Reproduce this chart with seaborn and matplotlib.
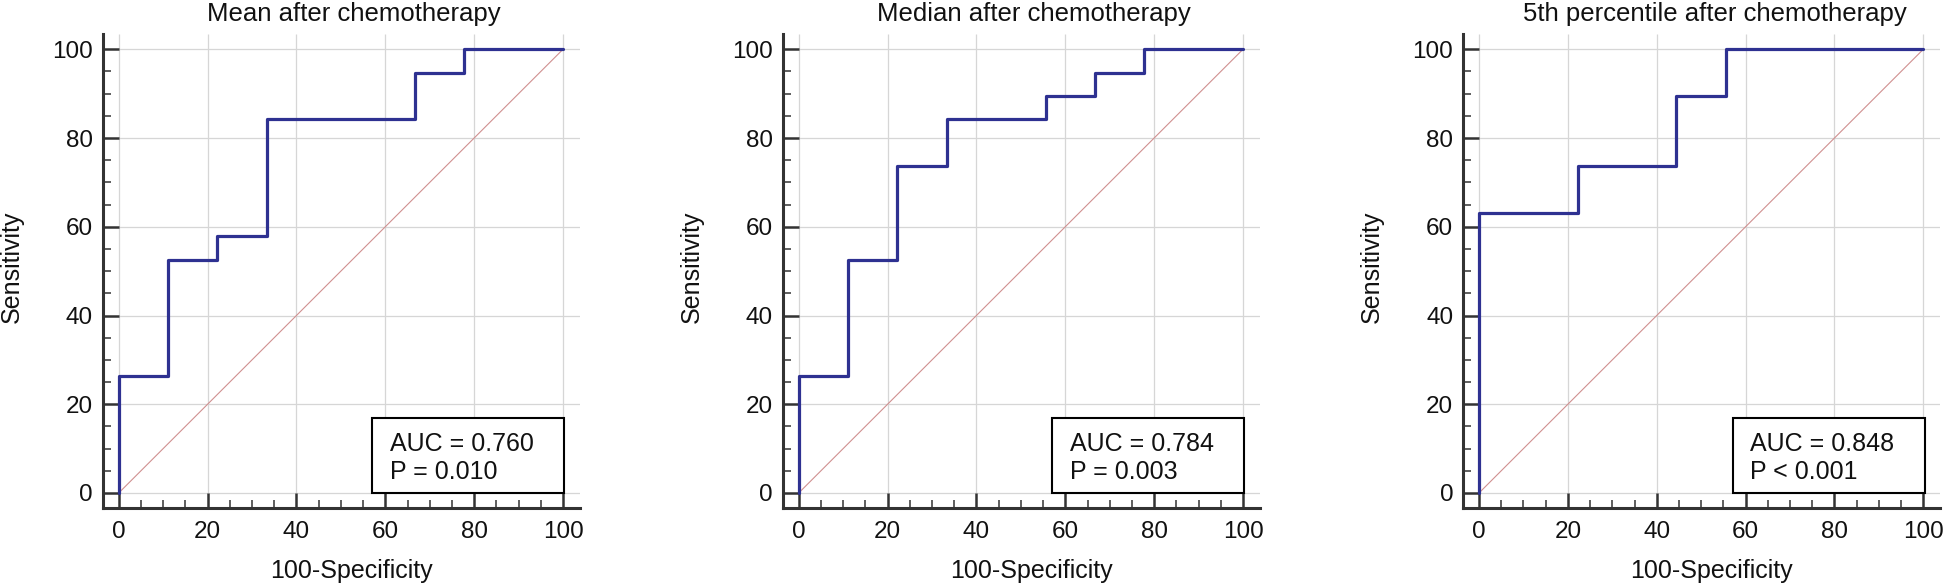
import matplotlib
matplotlib.use('Agg')
import matplotlib.pyplot as plt
import seaborn as sns
import pandas as pd
from matplotlib.patches import Rectangle
from matplotlib.ticker import MultipleLocator

# ROC curves (100-Specificity, Sensitivity), step corners
titles = ['Mean after chemotherapy', 'Median after chemotherapy', '5th percentile after chemotherapy']

mean_fpr = [0, 0, 11.1, 11.1, 22.2, 22.2, 33.3, 33.3, 66.7, 66.7, 77.8, 77.8, 100]
mean_tpr = [0, 26.3, 26.3, 52.6, 52.6, 57.9, 57.9, 84.2, 84.2, 94.7, 94.7, 100, 100]

median_fpr = [0, 0, 11.1, 11.1, 22.2, 22.2, 33.3, 33.3, 55.6, 55.6, 66.7, 66.7, 77.8, 77.8, 100]
median_tpr = [0, 26.3, 26.3, 52.6, 52.6, 73.7, 73.7, 84.2, 84.2, 89.5, 89.5, 94.7, 94.7, 100, 100]

p5_fpr = [0, 0, 22.2, 22.2, 44.4, 44.4, 55.6, 55.6, 100]
p5_tpr = [0, 63.2, 63.2, 73.7, 73.7, 89.5, 89.5, 100, 100]

auc_labels = ['AUC = 0.760', 'AUC = 0.784', 'AUC = 0.848']
p_labels = ['P = 0.010', 'P = 0.003', 'P < 0.001']

ref_line = [0, 100]
ticks = [0, 20, 40, 60, 80, 100]

sns.set_style('white')
plt.rcParams['font.family'] = ['Liberation Sans', 'DejaVu Sans']

ROC_COLOR = '#2e3191'
DIAG_COLOR = '#d09090'
GRID_COLOR = '#d6d6d6'
SPINE_COLOR = '#333333'
TEXT_COLOR = '#111111'

fig = plt.figure(figsize=(19.46, 5.83), dpi=100)
lefts = [0.05278, 0.40221, 0.75180]
curves = [(mean_fpr, mean_tpr), (median_fpr, median_tpr), (p5_fpr, p5_tpr)]

XMIN, XMAX = -3.6, 103.8
YMIN, YMAX = -3.45, 103.4

for i, (fpr, tpr) in enumerate(curves):
    ax = fig.add_axes([lefts[i], 0.12813, 0.24522, 0.81321])
    ax.set_xlim(XMIN, XMAX)
    ax.set_ylim(YMIN, YMAX)

    # grid only over the data region
    ax.vlines(ticks, 0, YMAX, color=GRID_COLOR, lw=0.9, zorder=0)
    ax.hlines(ticks, 0, XMAX, color=GRID_COLOR, lw=0.9, zorder=0)

    sns.lineplot(x=ref_line, y=ref_line, ax=ax, color=DIAG_COLOR, lw=0.8,
                 estimator=None, sort=False, zorder=1)
    df = pd.DataFrame({'fpr': fpr, 'tpr': tpr})
    sns.lineplot(data=df, x='fpr', y='tpr', ax=ax, color=ROC_COLOR, lw=2.3,
                 estimator=None, sort=False, zorder=3)

    # AUC box
    ax.add_patch(Rectangle((57.1, 0), 43.2, 16.8, fill=True, facecolor='white',
                           edgecolor='black', lw=1.5, zorder=4))
    ax.text(61, 7.9, auc_labels[i] + '\n' + p_labels[i], fontsize=18,
            color=TEXT_COLOR, ha='left', va='center', zorder=5)

    for side in ['top', 'right']:
        ax.spines[side].set_visible(False)
    for side in ['left', 'bottom']:
        ax.spines[side].set_color(SPINE_COLOR)
        ax.spines[side].set_linewidth(2.2)

    ax.set_xticks(ticks)
    ax.set_yticks(ticks)
    ax.xaxis.set_minor_locator(MultipleLocator(5))
    ax.yaxis.set_minor_locator(MultipleLocator(5))
    ax.tick_params(axis='x', which='major', direction='in', length=11, width=1.8,
                   color=SPINE_COLOR, labelsize=17.5, pad=9, bottom=True,
                   labelcolor=TEXT_COLOR)
    ax.tick_params(axis='y', which='major', direction='in', length=11.5, width=1.8,
                   color=SPINE_COLOR, labelsize=17.5, pad=7, left=True,
                   labelcolor=TEXT_COLOR)
    ax.tick_params(which='minor', direction='in', length=5.8, width=1.1,
                   color=SPINE_COLOR, bottom=True, left=True)

    ax.set_title(titles[i], fontsize=18.5, pad=9.5, x=0.527, color=TEXT_COLOR)
    ax.set_xlabel('100-Specificity', fontsize=18, color=TEXT_COLOR)
    ax.set_ylabel('Sensitivity', fontsize=18, color=TEXT_COLOR)
    ax.xaxis.set_label_coords(0.521, -0.107)
    ax.yaxis.set_label_coords(-0.166, 0.51)

fig.savefig('out.png', dpi=100)
